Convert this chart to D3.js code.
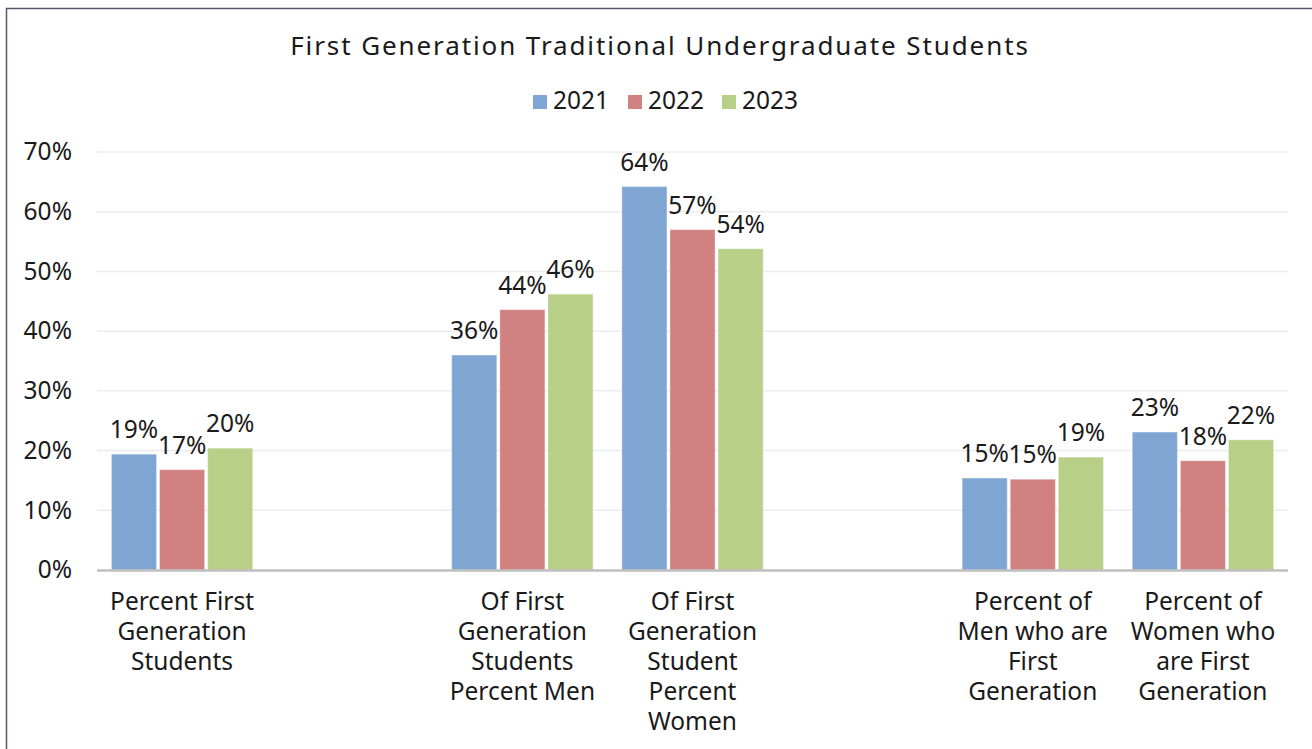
<!DOCTYPE html>
<html><head><meta charset="utf-8">
<script src="https://cdn.jsdelivr.net/npm/d3@7"></script>
<style>
html,body{margin:0;padding:0;background:#fff;}
svg{display:block;font-family:"Noto Sans",sans-serif;}
</style></head>
<body><svg id="c" width="1312" height="749"></svg>
<script>
const categories = ["cat1","gap1","cat2","cat3","gap2","cat4","cat5"];
const categoryLines = [
  ["Percent First","Generation","Students"],
  [],
  ["Of First","Generation","Students","Percent Men"],
  ["Of First","Generation","Student","Percent","Women"],
  [],
  ["Percent of","Men who are","First","Generation"],
  ["Percent of","Women who","are First","Generation"]
];
const seriesNames = ["2021","2022","2023"];
const seriesColors = ["#7fa6d2","#d28181","#b8cf88"];
const values2021 = [0.194, null, 0.360, 0.642, null, 0.154, 0.231];
const values2022 = [0.168, null, 0.436, 0.570, null, 0.152, 0.183];
const values2023 = [0.204, null, 0.462, 0.538, null, 0.189, 0.218];
const yTicks = [0,0.1,0.2,0.3,0.4,0.5,0.6,0.7];
const titleText = "First Generation Traditional Undergraduate Students";

const series = [values2021, values2022, values2023];
const svg = d3.select("#c");
const FS = 24.5;

// border
svg.append("path").attr("d","M6.5,749 V8.5 H1312").attr("fill","none")
  .attr("stroke","#5d5570").attr("stroke-width",1.5);

const x0 = d3.scaleBand().domain(categories).range([97,1288]).paddingInner(0).paddingOuter(0);
const x1 = d3.scaleBand().domain(seriesNames).range([0,x0.bandwidth()]).paddingInner(0.0625).paddingOuter(0.3);
const y = d3.scaleLinear().domain([0,0.7]).range([570,152]);

// gridlines
svg.append("g").selectAll("line").data(yTicks.filter(d=>d>0)).join("line")
  .attr("x1",97).attr("x2",1288).attr("y1",d=>y(d)).attr("y2",d=>y(d))
  .attr("stroke","#ececec").attr("stroke-width",1.5);

// y axis labels
const yAxis = d3.axisLeft(y).tickValues(yTicks).tickFormat(d3.format(".0%")).tickSize(0).tickPadding(0);
const ya = svg.append("g").attr("transform","translate(72,0)").call(yAxis);
ya.select(".domain").remove();
ya.selectAll("text").attr("font-size",FS).attr("fill","#1a1a1a").attr("font-family","Noto Sans");

// bars
const g = svg.append("g");
series.forEach((vals,si)=>{
  categories.forEach((c,ci)=>{
    const v = vals[ci];
    if(v==null) return;
    const bx = x0(c)+x1(seriesNames[si]);
    g.append("rect").attr("x",bx).attr("y",y(v)).attr("width",x1.bandwidth()).attr("height",y(0)-y(v))
      .attr("fill",seriesColors[si]).attr("stroke","#ffffff").attr("stroke-opacity",0.35).attr("stroke-width",1);
  });
});
series.forEach((vals,si)=>{
  categories.forEach((c,ci)=>{
    const v = vals[ci];
    if(v==null) return;
    const bx = x0(c)+x1(seriesNames[si]);
    g.append("text").attr("x",bx+x1.bandwidth()/2).attr("y",y(v)-16)
      .attr("text-anchor","middle").attr("font-size",FS).attr("fill","#1a1a1a")
      .text(d3.format(".0%")(v));
  });
});

// baseline
svg.append("line").attr("x1",97).attr("x2",1288).attr("y1",y(0)+0.5).attr("y2",y(0)+0.5)
  .attr("stroke","#bfbfbf").attr("stroke-width",2.5);

// category labels
categories.forEach((c,ci)=>{
  const t = svg.append("text").attr("text-anchor","middle").attr("font-size",FS).attr("fill","#1a1a1a");
  categoryLines[ci].forEach((ln,li)=>{
    t.append("tspan").attr("x",x0(c)+x0.bandwidth()/2).attr("y",610+li*30).text(ln);
  });
});

// title
svg.append("text").attr("x",660).attr("y",55).attr("text-anchor","middle")
  .attr("font-size",26).attr("letter-spacing","1.9px").attr("fill","#1a1a1a").text(titleText);

// legend
const legX = [533,628,722];
seriesNames.forEach((s,i)=>{
  svg.append("rect").attr("x",legX[i]).attr("y",95).attr("width",14).attr("height",14).attr("fill",seriesColors[i]);
  svg.append("text").attr("x",legX[i]+20).attr("y",109).attr("font-size",FS).attr("fill","#1a1a1a").text(s);
});
</script></body></html>
